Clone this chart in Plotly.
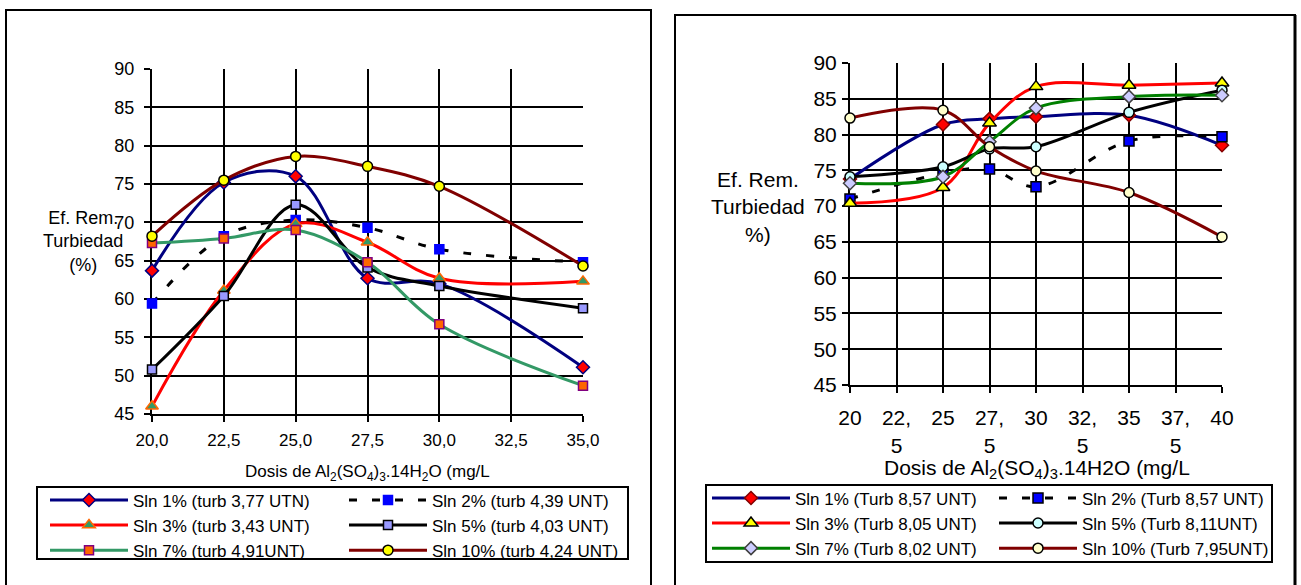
import plotly.graph_objects as go

W, H = 1301, 585
FONT = "Liberation Sans, Arial, sans-serif"

# ---- left panel: doses and removal efficiency (%) ----
dosis_izq = [20, 22.5, 25, 27.5, 30, 35]
izq_sln1 = [63.7, 75.2, 76.0, 62.7, 62.0, 51.1]
izq_sln2 = [59.4, 68.2, 70.3, 69.3, 66.5, 64.8]
izq_sln3 = [46.0, 61.1, 69.8, 67.4, 62.7, 62.3]
izq_sln5 = [50.8, 60.4, 72.3, 64.1, 61.7, 58.8]
izq_sln7 = [67.3, 67.9, 69.0, 64.8, 56.7, 48.7]
izq_sln10 = [68.2, 75.5, 78.6, 77.3, 74.7, 64.3]
nombres_izq = ["Sln 1% (turb 3,77 UTN)", "Sln 2% (turb 4,39 UNT)",
               "Sln 3% (turb 3,43 UNT)", "Sln 5% (turb 4,03 UNT)",
               "Sln 7% (turb 4,91UNT)", "Sln 10% (turb 4,24 UNT)"]
ticks_x_izq = [20, 22.5, 25, 27.5, 30, 32.5, 35]
etiq_x_izq = ["20,0", "22,5", "25,0", "27,5", "30,0", "32,5", "35,0"]

# ---- right panel ----
dosis_der = [20, 25, 27.5, 30, 35, 40]
der_sln1 = [73.8, 81.4, 82.2, 82.5, 82.7, 78.5]
der_sln2 = [71.0, 74.6, 75.2, 72.7, 79.1, 79.7]
der_sln3 = [70.4, 72.6, 81.6, 86.7, 86.9, 87.2]
der_sln5 = [74.1, 75.5, 78.0, 78.3, 83.1, 86.2]
der_sln7 = [73.2, 74.1, 79.0, 83.7, 85.3, 85.5]
der_sln10 = [82.3, 83.4, 78.3, 74.9, 71.9, 65.7]
nombres_der = ["Sln 1% (Turb 8,57 UNT)", "Sln 2% (Turb 8,57 UNT)",
               "Sln 3% (Turb 8,05 UNT)", "Sln 5% (Turb 8,11UNT)",
               "Sln 7% (Turb 8,02 UNT)", "Sln 10% (Turb 7,95UNT)"]
ticks_x_der = [20, 22.5, 25, 27.5, 30, 32.5, 35, 37.5, 40]
etiq_x_der = ["20", "22,<br>5", "25", "27,<br>5", "30", "32,<br>5", "35", "37,<br>5", "40"]

ticks_y = [45, 50, 55, 60, 65, 70, 75, 80, 85, 90]


def px(x):
    return x / W


def py(y):
    return 1 - y / H


fig = go.Figure()


def serie(x, y, name, xa, ya, leg, color, dash, sym, fill, edge, size):
    fig.add_trace(go.Scatter(
        x=x, y=y, name=name, xaxis=xa, yaxis=ya, legend=leg,
        mode="lines+markers", cliponaxis=False,
        line=dict(color=color, width=3, dash=dash, shape="spline", smoothing=1),
        marker=dict(symbol=sym, size=size, color=fill, line=dict(color=edge, width=1.5)),
    ))


DASH = "8px,15px"
# left panel series
serie(dosis_izq, izq_sln1, nombres_izq[0], "x", "y", "legend", "#000080", "solid", "diamond", "#FF0000", "#000080", 10)
serie(dosis_izq, izq_sln2, nombres_izq[1], "x", "y", "legend2", "#000000", DASH, "square", "#0000FF", "#0000FF", 9)
serie(dosis_izq, izq_sln3, nombres_izq[2], "x", "y", "legend", "#FF0000", "solid", "triangle-up", "#339966", "#FF6600", 11)
serie(dosis_izq, izq_sln5, nombres_izq[3], "x", "y", "legend2", "#000000", "solid", "square", "#9999FF", "#000000", 9)
serie(dosis_izq, izq_sln7, nombres_izq[4], "x", "y", "legend", "#339966", "solid", "square", "#FF6600", "#800080", 9)
serie(dosis_izq, izq_sln10, nombres_izq[5], "x", "y", "legend2", "#800000", "solid", "circle", "#FFFF00", "#000000", 10)

# right panel series
serie(dosis_der, der_sln1, nombres_der[0], "x2", "y2", "legend3", "#000080", "solid", "diamond", "#FF0000", "#800000", 10)
serie(dosis_der, der_sln2, nombres_der[1], "x2", "y2", "legend4", "#000000", DASH, "square", "#0000FF", "#000000", 10)
serie(dosis_der, der_sln3, nombres_der[2], "x2", "y2", "legend3", "#FF0000", "solid", "triangle-up", "#FFFF00", "#000000", 12)
serie(dosis_der, der_sln5, nombres_der[3], "x2", "y2", "legend4", "#000000", "solid", "circle", "#CCFFFF", "#000000", 10)
serie(dosis_der, der_sln7, nombres_der[4], "x2", "y2", "legend3", "#008000", "solid", "diamond", "#CCCCFF", "#404040", 10)
serie(dosis_der, der_sln10, nombres_der[5], "x2", "y2", "legend4", "#800000", "solid", "circle", "#FFFFCC", "#000000", 10)

axis_common = dict(showgrid=True, gridcolor="#000000", gridwidth=2, showline=True,
                   linecolor="#000000", linewidth=2, ticks="outside", ticklen=6,
                   tickwidth=2, tickcolor="#000000", zeroline=False, layer="below traces")

# grey frame on the top and right sides of each plot area
border_common = dict(showline=True, linecolor="#808080", linewidth=2, showgrid=False,
                     showticklabels=False, ticks="", zeroline=False, layer="below traces")

legend_common = dict(xanchor="left", yanchor="top", bgcolor="rgba(0,0,0,0)",
                     borderwidth=0, itemwidth=78, font=dict(family=FONT, size=17, color="#000000"))

shapes = [
    # outer chart frames
    dict(type="rect", xref="paper", yref="paper", x0=px(6), x1=px(651), y0=-0.05, y1=py(10),
         line=dict(color="#000000", width=2)),
    dict(type="rect", xref="paper", yref="paper", x0=px(675), x1=px(1295), y0=-0.05, y1=py(15),
         line=dict(color="#000000", width=2)),
    dict(type="line", xref="paper", yref="paper", x0=px(1295), x1=px(1295), y0=-0.05, y1=py(15),
         line=dict(color="#000000", width=3)),
    # legend boxes
    dict(type="rect", xref="paper", yref="paper", x0=px(37), x1=px(628), y0=py(559), y1=py(487),
         line=dict(color="#000000", width=2)),
    dict(type="rect", xref="paper", yref="paper", x0=px(706), x1=px(1272), y0=py(562), y1=py(485),
         line=dict(color="#000000", width=2)),
]

annotations = [
    dict(text="Ef. Rem.<br>Turbiedad<br>(%)", x=px(83), y=py(241), xref="paper", yref="paper",
         showarrow=False, xanchor="center", yanchor="middle", font=dict(family=FONT, size=18, color="#000000")),
    dict(text="Ef. Rem.<br>Turbiedad<br>%)", x=px(758), y=py(207), xref="paper", yref="paper",
         showarrow=False, xanchor="center", yanchor="middle", font=dict(family=FONT, size=21, color="#000000")),
    dict(text="Dosis de Al<sub>2</sub>(SO<sub>4</sub>)<sub>3</sub>.14H<sub>2</sub>O (mg/L",
         x=px(367), y=py(473), xref="paper", yref="paper", showarrow=False,
         xanchor="center", yanchor="middle", font=dict(family=FONT, size=17, color="#000000")),
    dict(text="Dosis de Al<sub>2</sub>(SO<sub>4</sub>)<sub>3</sub>.14H2O (mg/L",
         x=px(1037), y=py(469), xref="paper", yref="paper", showarrow=False,
         xanchor="center", yanchor="middle", font=dict(family=FONT, size=21, color="#000000")),
]

fig.update_layout(
    width=W, height=H, margin=dict(l=0, r=0, t=0, b=0, autoexpand=False),
    paper_bgcolor="#FFFFFF", plot_bgcolor="#FFFFFF",
    font=dict(family=FONT, color="#000000"),
    xaxis=dict(domain=[px(152), px(583)], range=[20, 35], tickvals=ticks_x_izq, ticktext=etiq_x_izq,
               anchor="y", tickfont=dict(size=17), ticklabelstandoff=4, **axis_common),
    yaxis=dict(domain=[py(414), py(69)], range=[45, 90], tickvals=ticks_y, anchor="x",
               tickfont=dict(size=18), ticklabelstandoff=6, **axis_common),
    xaxis2=dict(domain=[px(850), px(1222)], range=[20, 40], tickvals=ticks_x_der, ticktext=etiq_x_der,
                anchor="y2", tickfont=dict(size=21), ticklabelstandoff=7, **axis_common),
    yaxis2=dict(domain=[py(385), py(63)], range=[45, 90], tickvals=ticks_y, anchor="x2",
                tickfont=dict(size=21), ticklabelstandoff=1, **axis_common),
    xaxis3=dict(overlaying="x", anchor="y", side="top", range=[20, 35], **border_common),
    yaxis3=dict(overlaying="y", anchor="x", side="right", range=[45, 90], **border_common),
    xaxis4=dict(overlaying="x2", anchor="y2", side="top", range=[20, 40], **border_common),
    yaxis4=dict(overlaying="y2", anchor="x2", side="right", range=[45, 90], **border_common),
    legend=dict(x=px(45), y=py(482.4), **legend_common),
    legend2=dict(x=px(344), y=py(482.4), **legend_common),
    legend3=dict(x=px(707), y=py(480.4), **legend_common),
    legend4=dict(x=px(994), y=py(480.4), **legend_common),
    shapes=shapes,
    annotations=annotations,
    showlegend=True,
)

fig.write_html("out.html", config={"displayModeBar": False})
